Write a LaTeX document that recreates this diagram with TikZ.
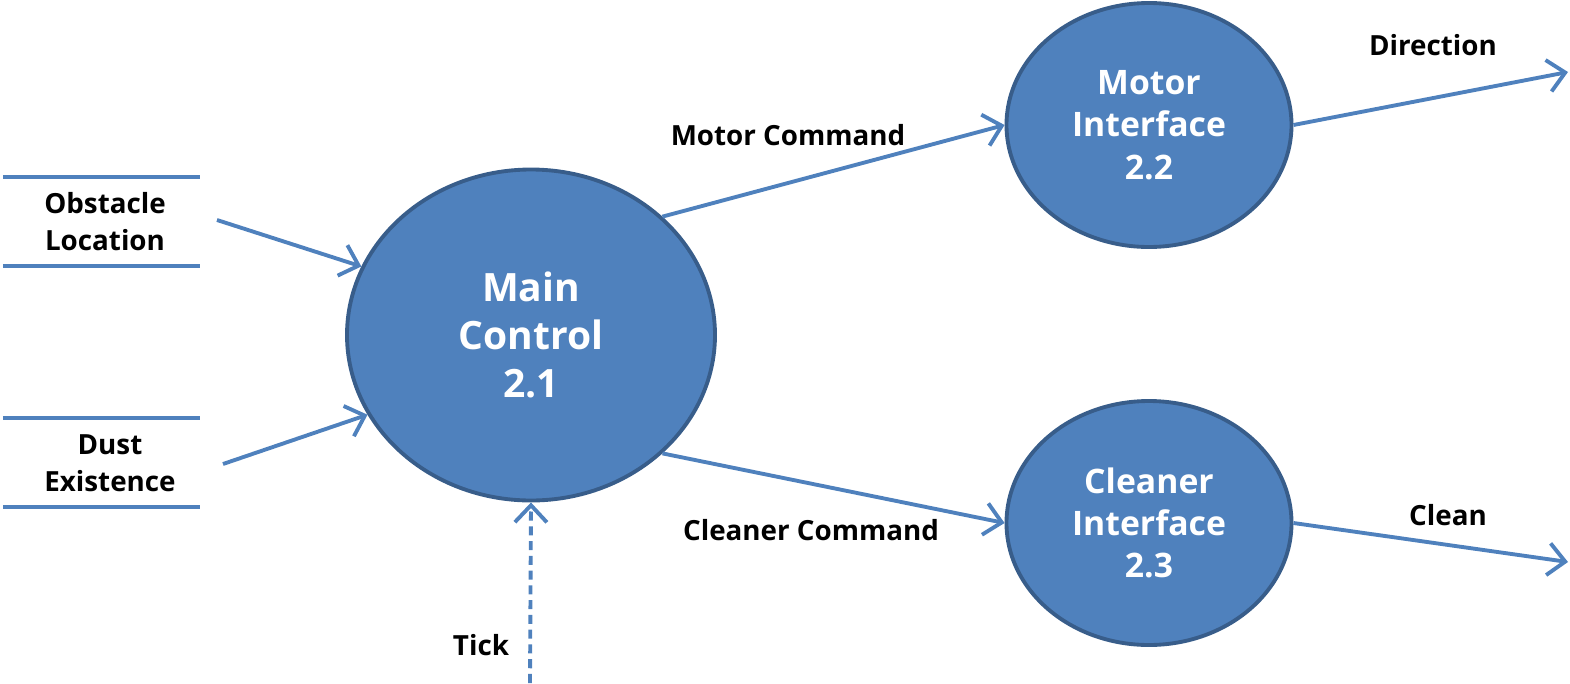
\documentclass[tikz,border=0pt]{standalone}
\usepackage{fontspec}
\setmainfont{Open Sans}
\usetikzlibrary{shapes.geometric,arrows.meta}
\definecolor{procblue}{HTML}{4F81BD}
\definecolor{procedge}{HTML}{385D8A}
\tikzset{
  process/.style={ellipse,draw=procedge,line width=1.1pt,fill=procblue,text=white,
    align=center,inner sep=0pt},
  flow/.style={draw=procblue,line width=1.1pt,-{Straight Barb[length=1.7mm,width=3.2mm]}},
  store/.style={draw=procblue,line width=1.1pt},
  lbl/.style={font=\bfseries\fontsize{7.9}{10.5}\selectfont,align=center,inner sep=0pt}
}
\begin{document}
\begin{tikzpicture}
  \useasboundingbox (0,0) rectangle (15.70,6.83);
  % processes
  \node[process,minimum width=3.68cm,minimum height=3.31cm,
    font=\bfseries\fontsize{11.1}{13.7}\selectfont] (main) at (5.31,3.48) {Main\\Control\\2.1};
  \node[process,minimum width=2.85cm,minimum height=2.44cm,
    font=\bfseries\fontsize{9.6}{12}\selectfont] (motor) at (11.49,5.58) {Motor\\Interface\\2.2};
  \node[process,minimum width=2.85cm,minimum height=2.44cm,
    font=\bfseries\fontsize{9.6}{12}\selectfont] (cleaner) at (11.49,1.60) {Cleaner\\Interface\\2.3};
  % data stores
  \draw[store](0.03,5.06) -- (2.00,5.06);
  \draw[store](0.03,4.17) -- (2.00,4.17);
  \draw[store](0.03,2.65) -- (2.00,2.65);
  \draw[store](0.03,1.76) -- (2.00,1.76);
  \node[lbl] (obst) at (1.05,4.61) {Obstacle\\Location};
  \node[lbl] (dust) at (1.10,2.20) {Dust\\Existence};
  % free ends
  \coordinate (obstout) at (2.17,4.63);
  \coordinate (dustout) at (2.23,2.19);
  \coordinate (dirend) at (15.68,6.11);
  \coordinate (cleanend) at (15.68,1.21);
  \coordinate (tickstart) at (5.30,0);
  % flows
  \draw[flow](obstout) -- (main.158);
  \draw[flow](dustout) -- (main.206);
  \draw[flow](main.42) -- (motor.west);
  \draw[flow](main.318) -- (cleaner.west);
  \draw[flow](motor.east) -- (dirend);
  \draw[flow](cleaner.east) -- (cleanend);
  \draw[flow,dash pattern=on 2.6pt off 1.6pt](tickstart) -- (main.south);
  % flow labels
  \node[lbl] (motorcmd) at (7.88,5.48) {Motor Command};
  \node[lbl] (cleanercmd) at (8.11,1.53) {Cleaner Command};
  \node[lbl] (direction) at (14.33,6.38) {Direction};
  \node[lbl] (clean) at (14.48,1.68) {Clean};
  \node[lbl] (tick) at (4.81,0.38) {Tick};
\end{tikzpicture}
\end{document}
